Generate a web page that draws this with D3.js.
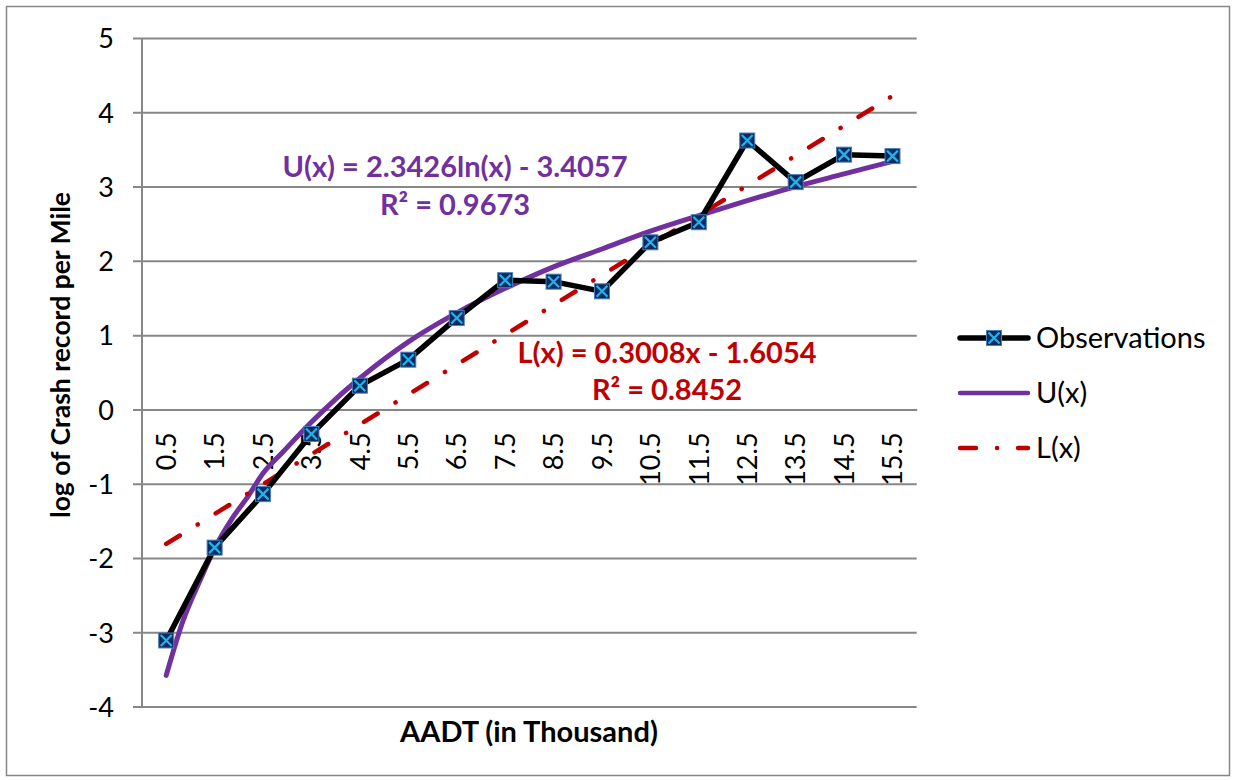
<!DOCTYPE html>
<html><head><meta charset="utf-8">
<script src="https://cdn.jsdelivr.net/npm/d3@7"></script>
<style>
body{margin:0;background:#fff;}
svg{display:block;font-family:Lato,"Open Sans",sans-serif;}
</style></head>
<body><svg id="c" width="1236" height="780"></svg>
<script>
// ---- data ----
const categories = ["0.5","1.5","2.5","3.5","4.5","5.5","6.5","7.5","8.5","9.5","10.5","11.5","12.5","13.5","14.5","15.5"];
const observations = [-3.11,-1.86,-1.14,-0.33,0.32,0.67,1.23,1.74,1.72,1.59,2.25,2.52,3.62,3.06,3.43,3.41];
// U(x) trend curve (position in category units, value)
const uPos = [0.5,0.85,1.2,1.5,1.87,2.2,2.5,2.9,3.5,4.0,4.5,5.5,6.5,7.5,8.5,9.5,10.5,11.5,12.5,13.5,14.5,15.5];
const uVal = [-3.58,-2.84,-2.30,-1.87,-1.46,-1.16,-0.86,-0.58,-0.17,0.14,0.42,0.91,1.30,1.63,1.92,2.16,2.40,2.61,2.81,3.00,3.17,3.34];
// L(x) trend line end points
const lPos = [0.5,15.5];
const lVal = [-1.81,4.22];
const yTicks = [5,4,3,2,1,0,-1,-2,-3,-4];
const seriesNames = ["Observations","U(x)","L(x)"];
const uLabel = ["U(x) = 2.3426ln(x) - 3.4057","R² = 0.9673"];
const lLabel = ["L(x) = 0.3008x - 1.6054","R² = 0.8452"];
const xTitle = "AADT (in Thousand)";
const yTitle = "log of Crash record per Mile";

// ---- layout ----
const svg = d3.select("#c");
const L = 142, R = 916.7, T = 38, B = 706.6;
const grey = "#878787", purple = "#7030a0", red = "#c00000";

svg.append("rect").attr("x",6.5).attr("y",6.5).attr("width",1223).attr("height",769)
  .attr("fill","#fff").attr("stroke",grey).attr("stroke-width",1.5);

const y = d3.scaleLinear().domain([-4,5]).range([B,T]);
const xl = d3.scaleLinear().domain([0,categories.length]).range([L,R]);
const xb = d3.scaleBand().domain(categories).range([L,R]).padding(0);
const cx = c => xb(c) + xb.bandwidth()/2;

// gridlines + y axis
const ga = svg.append("g").attr("transform",`translate(${L},0)`)
  .call(d3.axisLeft(y).tickValues(yTicks).tickSize(9).tickFormat(d=>String(d)));
ga.select(".domain").remove();
ga.selectAll(".tick line").attr("x1",-9).attr("x2",R-L).attr("stroke",grey).attr("stroke-width",2);
ga.selectAll(".tick text").attr("x",-28).attr("dy","0.36em")
  .style("font-size","27px").style("font-family","Lato,sans-serif").attr("fill","#000");
svg.append("line").attr("x1",L).attr("x2",L).attr("y1",T).attr("y2",B)
  .attr("stroke",grey).attr("stroke-width",2);

// category axis at zero
const gx = svg.append("g").attr("transform",`translate(0,${y(0)})`)
  .call(d3.axisBottom(xb).tickSize(0));
gx.select(".domain").attr("stroke",grey).attr("stroke-width",2);
gx.selectAll(".tick text")
  .attr("y",0).attr("dy","0.36em").attr("x",-23)
  .attr("transform","rotate(-90)")
  .attr("text-anchor","end")
  .style("font-size","27px").style("font-family","Lato,sans-serif").attr("fill","#000");

// U(x) curve
const uData = uPos.map((p,i)=>[p,uVal[i]]);
svg.append("path").datum(uData)
  .attr("d", d3.line().x(d=>xl(d[0])).y(d=>y(d[1])).curve(d3.curveMonotoneX))
  .attr("fill","none").attr("stroke",purple).attr("stroke-width",5).attr("stroke-linecap","round");

// L(x) line
const lData = lPos.map((p,i)=>[p,lVal[i]]);
svg.append("path").datum(lData)
  .attr("d", d3.line().x(d=>xl(d[0])).y(d=>y(d[1])))
  .attr("fill","none").attr("stroke",red).attr("stroke-width",4.5)
  .attr("stroke-linecap","round").attr("stroke-dasharray","16 21 0.1 21");

// Observations
const oData = categories.map((c,i)=>[c,observations[i]]);
svg.append("path").datum(oData)
  .attr("d", d3.line().x(d=>cx(d[0])).y(d=>y(d[1])))
  .attr("fill","none").attr("stroke","#000").attr("stroke-width",5.5).attr("stroke-linejoin","round");

function marker(g){
  g.append("rect").attr("x",-7.5).attr("y",-7.5).attr("width",15).attr("height",15)
    .attr("fill","#0c2a5e").attr("stroke","#4a7ebb").attr("stroke-width",1);
  g.append("path").attr("d","M-5.5,-5.5L5.5,5.5M-5.5,5.5L5.5,-5.5")
    .attr("stroke","#1fb4ee").attr("stroke-width",2.2);
}
svg.selectAll("g.mk").data(oData).join("g").attr("class","mk")
  .attr("transform",d=>`translate(${cx(d[0])},${y(d[1])})`)
  .each(function(){ marker(d3.select(this)); });

// trendline labels
const ut = svg.append("text").attr("text-anchor","middle").attr("fill",purple)
  .style("font-weight","bold").style("font-size","29px");
ut.selectAll("tspan").data(uLabel).join("tspan").attr("x",455)
  .attr("y",(d,i)=>177+i*38).text(d=>d);
const lt = svg.append("text").attr("text-anchor","middle").attr("fill",red)
  .style("font-weight","bold").style("font-size","29px");
lt.selectAll("tspan").data(lLabel).join("tspan").attr("x",667)
  .attr("y",(d,i)=>363+i*37).text(d=>d);

// axis titles
svg.append("text").attr("x",529).attr("y",742).attr("text-anchor","middle")
  .style("font-weight","bold").style("font-size","29px").text(xTitle);
svg.append("text").attr("transform","translate(70,355) rotate(-90)").attr("text-anchor","middle")
  .style("font-weight","bold").style("font-size","26.5px").text(yTitle);

// legend
const lg = svg.append("g");
const rows = [338,393,448];
seriesNames.forEach((n,i)=>{
  const g = lg.append("g").attr("transform",`translate(0,${rows[i]})`);
  const ln = g.append("line").attr("x1",960).attr("x2",1028).attr("y1",0).attr("y2",0)
    .attr("stroke-linecap","round");
  if(i===0){ ln.attr("stroke","#000").attr("stroke-width",5.5);
    const m = g.append("g").attr("transform","translate(994,0)"); marker(m); }
  if(i===1){ ln.attr("stroke",purple).attr("stroke-width",4.5); }
  if(i===2){ ln.attr("stroke",red).attr("stroke-width",4.5).attr("stroke-dasharray","16 21 0.1 21"); }
  g.append("text").attr("x",1036).attr("dy","0.36em").style("font-size","29px").text(n);
});
</script></body></html>
